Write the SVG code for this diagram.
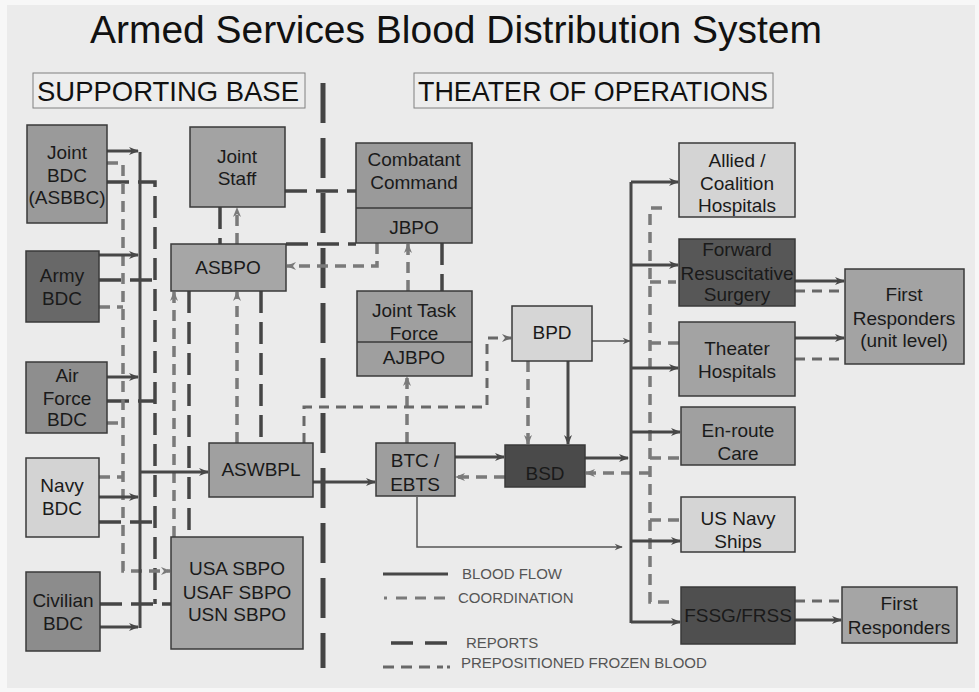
<svg xmlns="http://www.w3.org/2000/svg" width="979" height="692" viewBox="0 0 979 692">
<style>
.box{stroke:#3a3a3a;stroke-width:1.5}
.t{font-family:"Liberation Sans",Arial,sans-serif;font-size:19px;fill:#1a1a1a;text-anchor:middle}
.flow{fill:none;stroke:#474747;stroke-width:3}
.thin{fill:none;stroke:#555;stroke-width:1.5}
.coord{fill:none;stroke:#7a7a7a;stroke-width:3.5;stroke-dasharray:11 7}
.rep{fill:none;stroke:#454545;stroke-width:3.5;stroke-dasharray:22 9}
.div{fill:none;stroke:#444;stroke-width:5;stroke-dasharray:40 15}
.frozen{fill:none;stroke:#686868;stroke-width:3;stroke-dasharray:10 7}
.lg{font-family:"Liberation Sans",Arial,sans-serif;font-size:15px;fill:#555}
.hdr{font-family:"Liberation Sans",Arial,sans-serif;font-size:28px;fill:#111}
</style>
<defs>
<marker id="af" viewBox="0 0 10 10" refX="9" refY="5" markerWidth="12" markerHeight="10" markerUnits="userSpaceOnUse" orient="auto"><path d="M0,1 L10,5 L0,9 L3,5 Z" fill="#474747"/></marker>
<marker id="at" viewBox="0 0 10 10" refX="9" refY="5" markerWidth="10" markerHeight="8" markerUnits="userSpaceOnUse" orient="auto"><path d="M0,1 L10,5 L0,9 L3,5 Z" fill="#555"/></marker>
<marker id="ac" viewBox="0 0 10 10" refX="9" refY="5" markerWidth="11" markerHeight="10" markerUnits="userSpaceOnUse" orient="auto"><path d="M0,1 L10,5 L0,9 L3,5 Z" fill="#7a7a7a"/></marker>
<marker id="az" viewBox="0 0 10 10" refX="9" refY="5" markerWidth="11" markerHeight="10" markerUnits="userSpaceOnUse" orient="auto"><path d="M0,1 L10,5 L0,9 L3,5 Z" fill="#686868"/></marker>
</defs>
<rect x="0" y="0" width="979" height="692" fill="#f7f7f7"/>
<rect x="7" y="5" width="968" height="683" fill="#ebebeb"/>

<text x="90" y="43" font-family="Liberation Sans, Arial, sans-serif" font-size="38" fill="#111" textLength="732" lengthAdjust="spacingAndGlyphs">Armed Services Blood Distribution System</text>
<g id="hdr-support"><rect x="33" y="73" width="272" height="35" fill="#ededed" stroke="#808080" stroke-width="1"/><text class="hdr" x="37" y="101" textLength="262" lengthAdjust="spacingAndGlyphs">SUPPORTING  BASE</text></g>
<g id="hdr-theater"><rect x="414" y="73" width="359" height="35" fill="#ededed" stroke="#808080" stroke-width="1"/><text class="hdr" x="418" y="101" textLength="350" lengthAdjust="spacingAndGlyphs">THEATER OF OPERATIONS</text></g>

<g id="connectors">
<path class="div" d="M323,83 V668"/>
<path class="rep" d="M107,182 H155 V604"/>
<path class="rep" d="M99,280 H155"/>
<path class="rep" d="M107,401 H155"/>
<path class="rep" d="M99,522 H155"/>
<path class="rep" d="M100,604 H171"/>
<path class="rep" d="M189,291 V537"/>
<path class="rep" d="M261,291 V443"/>
<path class="rep" d="M220,207 V244"/>
<path class="rep" d="M285,191 H356"/>
<path class="rep" d="M286,244 H356"/>
<path class="rep" d="M442,243 V291"/>
<path class="coord" d="M107,163 H123 V571 H170" marker-end="url(#ac)"/>
<path class="coord" d="M99,307 H123"/>
<path class="coord" d="M107,423 H123"/>
<path class="coord" d="M99,477 H123"/>
<path class="coord" d="M174,537 V292" marker-end="url(#ac)"/>
<path class="coord" d="M237,443 V292" marker-end="url(#ac)"/>
<path class="coord" d="M237,244 V208" marker-end="url(#ac)"/>
<path class="coord" d="M377,243 V266 H287" marker-end="url(#ac)"/>
<path class="coord" d="M408,291 V244" marker-end="url(#ac)"/>
<path class="coord" d="M407,443 V377" marker-end="url(#ac)"/>
<path class="coord" d="M528,361 V444" marker-end="url(#ac)"/>
<path class="coord" d="M505,477 H456" marker-end="url(#ac)"/>
<path class="coord" d="M662,208 H650 V602 H676"/>
<path class="coord" d="M650,282 H676"/>
<path class="coord" d="M650,343 H679"/>
<path class="coord" d="M650,458 H681"/>
<path class="coord" d="M650,520 H681"/>
<path class="coord" d="M650,473 H586" marker-end="url(#ac)"/>
<path class="frozen" d="M304,443 V407 H487 V338 H511" marker-end="url(#az)"/>
<path class="frozen" d="M795,291 H845"/>
<path class="frozen" d="M795,359 H845"/>
<path class="frozen" d="M795,601 H842"/>
<path class="flow" d="M140,152 V628"/>
<path class="flow" d="M107,151 H138" marker-end="url(#af)"/>
<path class="flow" d="M99,255 H138" marker-end="url(#af)"/>
<path class="flow" d="M107,377 H138" marker-end="url(#af)"/>
<path class="flow" d="M99,497 H138" marker-end="url(#af)"/>
<path class="flow" d="M100,627 H138" marker-end="url(#af)"/>
<path class="flow" d="M140,472 H208" marker-end="url(#af)"/>
<path class="flow" d="M313,482 H375" marker-end="url(#af)"/>
<path class="flow" d="M455,457 H504" marker-end="url(#af)"/>
<path class="flow" d="M568,361 V444" marker-end="url(#af)"/>
<path class="flow" d="M585,458 H628" marker-end="url(#af)"/>
<path class="flow" d="M631,182 V623"/>
<path class="flow" d="M631,182 H678" marker-end="url(#af)"/>
<path class="flow" d="M631,265 H678" marker-end="url(#af)"/>
<path class="flow" d="M631,368 H678" marker-end="url(#af)"/>
<path class="flow" d="M631,432 H680" marker-end="url(#af)"/>
<path class="flow" d="M631,541 H680" marker-end="url(#af)"/>
<path class="flow" d="M631,622 H680" marker-end="url(#af)"/>
<path class="flow" d="M795,281 H844" marker-end="url(#af)"/>
<path class="flow" d="M795,338 H844" marker-end="url(#af)"/>
<path class="flow" d="M795,620 H841" marker-end="url(#af)"/>
<path class="thin" d="M592,341 H630" marker-end="url(#at)"/>
<path class="thin" d="M417,497 V547 H622" marker-end="url(#at)"/>
</g>

<g id="n-jointbdc"><rect class="box" x="27" y="125" width="80" height="98" fill="#9a9a9a"/><text class="t" x="67" y="159">Joint</text><text class="t" x="67" y="182">BDC</text><text class="t" x="67" y="204">(ASBBC)</text></g>
<g id="n-jointstaff"><rect class="box" x="190" y="127" width="95" height="80" fill="#a3a3a3"/><text class="t" x="237" y="163">Joint</text><text class="t" x="237" y="185">Staff</text></g>
<g id="n-army"><rect class="box" x="26" y="251" width="73" height="71" fill="#686868"/><text class="t" x="62" y="282">Army</text><text class="t" x="62" y="305">BDC</text></g>
<g id="n-asbpo"><rect class="box" x="171" y="244" width="115" height="47" fill="#a6a6a6"/><text class="t" x="228" y="274">ASBPO</text></g>
<g id="n-airforce"><rect class="box" x="26" y="362" width="81" height="71" fill="#8e8e8e"/><text class="t" x="67" y="382">Air</text><text class="t" x="67" y="405">Force</text><text class="t" x="67" y="426">BDC</text></g>
<g id="n-navy"><rect class="box" x="26" y="458" width="73" height="79" fill="#d3d3d3"/><text class="t" x="62" y="492">Navy</text><text class="t" x="62" y="515">BDC</text></g>
<g id="n-aswbpl"><rect class="box" x="209" y="443" width="104" height="54" fill="#a0a0a0"/><text class="t" x="261" y="476">ASWBPL</text></g>
<g id="n-civilian"><rect class="box" x="26" y="572" width="74" height="79" fill="#8c8c8c"/><text class="t" x="63" y="607">Civilian</text><text class="t" x="63" y="630">BDC</text></g>
<g id="n-sbpo"><rect class="box" x="171" y="537" width="132" height="112" fill="#a5a5a5"/><text class="t" x="237" y="575">USA SBPO</text><text class="t" x="237" y="599">USAF SBPO</text><text class="t" x="237" y="621">USN SBPO</text></g>
<g id="n-combatant"><rect class="box" x="356" y="143" width="116" height="100" fill="#9a9a9a"/><line x1="356" y1="208" x2="472" y2="208" stroke="#3a3a3a" stroke-width="1.5"/><text class="t" x="414" y="166">Combatant</text><text class="t" x="414" y="189">Command</text><text class="t" x="414" y="234">JBPO</text></g>
<g id="n-jtf"><rect class="box" x="357" y="291" width="115" height="85" fill="#9f9f9f"/><line x1="357" y1="342" x2="472" y2="342" stroke="#3a3a3a" stroke-width="1.5"/><text class="t" x="414" y="317">Joint Task</text><text class="t" x="414" y="340">Force</text><text class="t" x="414" y="364">AJBPO</text></g>
<g id="n-bpd"><rect class="box" x="512" y="306" width="80" height="55" fill="#d6d6d6"/><text class="t" x="552" y="339">BPD</text></g>
<g id="n-btc"><rect class="box" x="376" y="443" width="79" height="53" fill="#9e9e9e"/><text class="t" x="415" y="467">BTC /</text><text class="t" x="415" y="491">EBTS</text></g>
<g id="n-bsd"><rect class="box" x="505" y="445" width="80" height="42" fill="#4a4a4a"/><text class="t" x="545" y="480" fill="#111">BSD</text></g>
<g id="n-allied"><rect class="box" x="679" y="143" width="116" height="74" fill="#d4d4d4"/><text class="t" x="737" y="167">Allied /</text><text class="t" x="737" y="190">Coalition</text><text class="t" x="737" y="212">Hospitals</text></g>
<g id="n-forward"><rect class="box" x="679" y="239" width="116" height="67" fill="#575757"/><text class="t" x="737" y="256" fill="#111">Forward</text><text class="t" x="737" y="280" fill="#111">Resuscitative</text><text class="t" x="737" y="301" fill="#111">Surgery</text></g>
<g id="n-fr-unit"><rect class="box" x="845" y="269" width="119" height="95" fill="#a3a3a3"/><text class="t" x="904" y="301">First</text><text class="t" x="904" y="325">Responders</text><text class="t" x="904" y="347">(unit level)</text></g>
<g id="n-theater"><rect class="box" x="679" y="322" width="116" height="74" fill="#a3a3a3"/><text class="t" x="737" y="355">Theater</text><text class="t" x="737" y="378">Hospitals</text></g>
<g id="n-enroute"><rect class="box" x="681" y="407" width="114" height="58" fill="#a0a0a0"/><text class="t" x="738" y="437">En-route</text><text class="t" x="738" y="460">Care</text></g>
<g id="n-navyships"><rect class="box" x="681" y="497" width="114" height="55" fill="#d5d5d5"/><text class="t" x="738" y="525">US Navy</text><text class="t" x="738" y="548">Ships</text></g>
<g id="n-fssg"><rect class="box" x="681" y="587" width="114" height="57" fill="#4f4f4f"/><text class="t" x="738" y="622" fill="#111">FSSG/FRSS</text></g>
<g id="n-fr"><rect class="box" x="842" y="587" width="115" height="56" fill="#a5a5a5"/><text class="t" x="899" y="610">First</text><text class="t" x="899" y="634">Responders</text></g>

<g id="legend">
<line x1="383" y1="574" x2="448" y2="574" stroke="#474747" stroke-width="3"/>
<text class="lg" x="462" y="579">BLOOD FLOW</text>
<path d="M384,598 H387" stroke="#7a7a7a" stroke-width="3"/>
<path d="M396,598 H450" stroke="#7a7a7a" stroke-width="3" stroke-dasharray="11 8"/>
<text class="lg" x="458" y="603">COORDINATION</text>
<path d="M391,643 H449" stroke="#454545" stroke-width="3.5" stroke-dasharray="22 12"/>
<text class="lg" x="466" y="648">REPORTS</text>
<path d="M383,667 H443" stroke="#686868" stroke-width="3" stroke-dasharray="11 7"/>
<path d="M447,667 H450" stroke="#686868" stroke-width="3"/>
<text class="lg" x="461" y="668">PREPOSITIONED  FROZEN BLOOD</text>
</g>
</svg>
